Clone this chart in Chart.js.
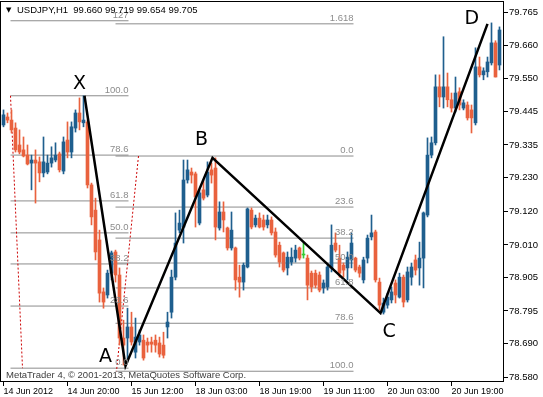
<!DOCTYPE html>
<html>
<head>
<meta charset="utf-8">
<script src="https://cdn.jsdelivr.net/npm/chart.js@4.4.0/dist/chart.umd.min.js"></script>
<style>
html, body { margin: 0; padding: 0; background: #fff; }
#wrap { width: 543px; height: 397px; }
</style>
</head>
<body>
<div id="wrap"><canvas id="myChart"></canvas></div>
<script>
// USDJPY H1 bars, one value per hour (bar index = position in array)
var opens = [79.400, 79.426, 79.416, 79.390, 79.335, 79.319, 79.302, 79.276, 79.286, 79.280,
  79.244, 79.247, 79.276, 79.286, 79.306, 79.250, 79.351, 79.312, 79.390, 79.439,
  79.407, 79.410, 79.205, 79.123, 79.026, 78.857, 78.847, 78.918, 78.987, 78.912,
  78.707, 78.707, 78.743, 78.661, 78.694, 78.700, 78.694, 78.694, 78.700, 78.691,
  78.684, 78.743, 78.791, 78.905, 79.058, 79.068, 79.221, 79.247, 79.241, 79.081,
  79.189, 79.172, 79.254, 79.260, 79.065, 79.117, 79.065, 79.000, 79.000, 78.905,
  78.889, 78.938, 79.123, 79.075, 79.097, 79.091, 79.075, 79.091, 79.052, 79.009,
  78.984, 78.935, 78.954, 78.967, 79.000, 78.977, 78.967, 78.918, 78.918, 78.912,
  78.870, 78.873, 78.935, 79.016, 78.967, 78.944, 78.935, 78.961, 78.967, 78.938,
  78.896, 78.967, 79.036, 79.052, 78.889, 78.791, 78.814, 78.831, 78.886, 78.840,
  78.905, 78.831, 78.905, 78.961, 78.935, 78.967, 79.107, 79.302, 79.342, 79.524,
  79.491, 79.524, 79.482, 79.455, 79.508, 79.455, 79.465, 79.449, 79.407, 79.589,
  79.563, 79.573, 79.602, 79.667, 79.595];
var highs = [79.449, 79.439, 79.449, 79.407, 79.384, 79.361, 79.335, 79.302, 79.319, 79.296,
  79.361, 79.302, 79.329, 79.342, 79.312, 79.361, 79.410, 79.410, 79.449, 79.488,
  79.495, 79.416, 79.211, 79.162, 79.058, 78.870, 78.928, 78.990, 78.993, 78.935,
  78.765, 78.804, 78.791, 78.772, 78.733, 78.717, 78.707, 78.710, 78.717, 78.710,
  78.726, 78.791, 78.928, 79.114, 79.123, 79.286, 79.286, 79.260, 79.247, 79.189,
  79.221, 79.280, 79.276, 79.293, 79.150, 79.150, 79.068, 79.117, 79.003, 78.944,
  78.951, 79.130, 79.130, 79.107, 79.114, 79.107, 79.107, 79.101, 79.065, 79.019,
  78.987, 78.987, 79.000, 79.009, 79.003, 79.016, 78.977, 78.925, 78.928, 78.922,
  78.896, 78.944, 79.075, 79.049, 79.009, 78.951, 78.987, 79.049, 78.970, 78.944,
  78.970, 79.042, 79.107, 79.058, 78.902, 78.837, 78.853, 78.873, 78.896, 78.918,
  78.912, 78.938, 78.951, 78.977, 79.019, 79.117, 79.358, 79.361, 79.563, 79.563,
  79.687, 79.569, 79.504, 79.556, 79.521, 79.482, 79.475, 79.465, 79.651, 79.621,
  79.586, 79.621, 79.732, 79.674, 79.719];
var lows = [79.394, 79.407, 79.374, 79.312, 79.306, 79.296, 79.270, 79.189, 79.146, 79.215,
  79.231, 79.241, 79.263, 79.280, 79.247, 79.241, 79.293, 79.293, 79.377, 79.384,
  79.394, 79.195, 79.075, 78.961, 78.824, 78.804, 78.837, 78.896, 78.889, 78.684,
  78.619, 78.629, 78.684, 78.642, 78.684, 78.635, 78.661, 78.661, 78.661, 78.645,
  78.642, 78.707, 78.772, 78.896, 79.049, 79.016, 79.211, 79.211, 79.068, 79.075,
  79.156, 79.166, 79.211, 79.026, 79.058, 79.052, 78.993, 78.993, 78.863, 78.840,
  78.863, 78.935, 79.062, 79.068, 79.065, 79.058, 79.065, 79.042, 78.970, 78.938,
  78.922, 78.912, 78.944, 78.954, 78.961, 78.967, 78.831, 78.857, 78.870, 78.857,
  78.853, 78.863, 78.922, 78.987, 78.905, 78.905, 78.896, 78.935, 78.922, 78.905,
  78.886, 78.951, 79.026, 78.889, 78.798, 78.785, 78.804, 78.821, 78.821, 78.837,
  78.808, 78.824, 78.879, 78.912, 78.879, 78.870, 79.101, 79.293, 79.335, 79.459,
  79.455, 79.459, 79.442, 79.442, 79.449, 79.449, 79.416, 79.374, 79.400, 79.556,
  79.547, 79.556, 79.595, 79.556, 79.579];
var closes = [79.433, 79.416, 79.384, 79.319, 79.312, 79.299, 79.273, 79.286, 79.276, 79.244,
  79.280, 79.276, 79.293, 79.302, 79.254, 79.345, 79.312, 79.394, 79.439, 79.410,
  79.416, 79.205, 79.101, 78.987, 78.853, 78.824, 78.918, 78.984, 78.912, 78.707,
  78.684, 78.743, 78.694, 78.710, 78.717, 78.642, 78.684, 78.687, 78.684, 78.655,
  78.651, 78.759, 78.905, 79.016, 79.081, 79.221, 79.254, 79.237, 79.166, 79.179,
  79.162, 79.247, 79.237, 79.068, 79.117, 79.091, 79.000, 79.058, 78.896, 78.889,
  78.944, 79.127, 79.068, 79.097, 79.068, 79.068, 79.091, 79.049, 78.977, 78.954,
  78.928, 78.970, 78.970, 78.993, 78.967, 78.980, 78.879, 78.873, 78.879, 78.863,
  78.886, 78.938, 79.009, 78.993, 78.918, 78.928, 78.970, 79.016, 78.928, 78.918,
  78.961, 79.032, 79.049, 78.896, 78.814, 78.821, 78.840, 78.857, 78.847, 78.905,
  78.824, 78.922, 78.938, 78.928, 78.967, 79.114, 79.302, 79.342, 79.524, 79.491,
  79.524, 79.482, 79.455, 79.504, 79.465, 79.472, 79.423, 79.423, 79.589, 79.563,
  79.576, 79.605, 79.667, 79.556, 79.709];
var selectedBar = 75; // the one bar MT4 shows in green

// time axis labels and the bar they sit on
var timeLabels = ['14 Jun 2012', '14 Jun 20:00', '15 Jun 12:00', '18 Jun 03:00',
  '18 Jun 19:00', '19 Jun 11:00', '20 Jun 03:00', '20 Jun 19:00'];
var timeLabelBars = [0, 16, 32, 48, 64, 80, 96, 112];

// price scale
var priceTicks = [79.765, 79.660, 79.550, 79.445, 79.335, 79.230, 79.120, 79.010,
  78.905, 78.795, 78.690, 78.580];

// XABCD pattern
var pointNames = ['X', 'A', 'B', 'C', 'D'];
var pointBars = [20.25, 30.5, 52.25, 94.25, 121];
var pointPrices = [79.495, 78.616, 79.293, 78.788, 79.729];
var nameBars = [19, 25.5, 49.5, 96.4, 117.1];
var namePrices = [79.534, 78.645, 79.351, 78.726, 79.745];

// fibo X-A
var fibXALevels = ['127', '100.0', '78.6', '61.8', '50.0', '38.2', '23.6', '0.0'];
var fibXAPrices = [79.739, 79.495, 79.302, 79.153, 79.049, 78.948, 78.811, 78.609];
var fibXABars = [1.75, 31.25];
var fibXATrendBars = [1.75, 4.75];
var fibXATrendPrices = [79.495, 78.609];

// fibo B-C
var fibBCLevels = ['1.618', '0.0', '23.6', '38.2', '50.0', '61.8', '78.6', '100.0'];
var fibBCPrices = [79.729, 79.299, 79.133, 79.032, 78.951, 78.870, 78.755, 78.599];
var fibBCBars = [28, 87.5];
var fibBCTrendBars = [33.75, 28.25];
var fibBCTrendPrices = [79.299, 78.599];

var UP = '#1f5f8e', DOWN = '#e9623e', SEL = '#33cc33';
var FONT = '"Liberation Sans", Arial, sans-serif';

var barColors = opens.map(function (o, i) {
  if (i === selectedBar) return SEL;
  return closes[i] >= o ? UP : DOWN;
});

function fibLines(prices, bars) {
  return prices.map(function (p) {
    return {
      type: 'line',
      data: [{ x: bars[0], y: p }, { x: bars[1], y: p }],
      borderColor: '#8c8c8c', borderWidth: 1, pointRadius: 0, order: 4
    };
  });
}
function trendLine(bars, prices) {
  return {
    type: 'line',
    data: bars.map(function (b, k) { return { x: b, y: prices[k] }; }),
    borderColor: '#cc0000', borderWidth: 1, borderDash: [2, 2], pointRadius: 0, order: 3
  };
}

var datasets = [
  {
    data: lows.map(function (l, i) { return { x: i, y: [l, highs[i]] }; }),
    backgroundColor: barColors, barThickness: 1, grouped: false, minBarLength: 1, order: 2
  },
  {
    data: opens.map(function (o, i) { return { x: i, y: [o, closes[i]] }; }),
    backgroundColor: barColors, barThickness: 3, grouped: false, minBarLength: 1, order: 2
  },
  trendLine(fibXATrendBars, fibXATrendPrices),
  trendLine(fibBCTrendBars, fibBCTrendPrices),
  {
    type: 'line',
    data: pointBars.map(function (b, k) { return { x: b, y: pointPrices[k] }; }),
    borderColor: '#000', borderWidth: 2.5, pointRadius: 0, tension: 0, order: 1
  }
].concat(fibLines(fibXAPrices, fibXABars), fibLines(fibBCPrices, fibBCBars));

var extras = {
  id: 'extras',
  afterDatasetsDraw: function (chart) {
    var ctx = chart.ctx, sx = chart.scales.x, sy = chart.scales.y, a = chart.chartArea;
    ctx.save();
    // fibo captions
    ctx.font = '9.5px ' + FONT;
    ctx.fillStyle = '#8c8c8c';
    ctx.textAlign = 'right';
    ctx.textBaseline = 'bottom';
    fibXALevels.forEach(function (t, k) {
      ctx.fillText(t, sx.getPixelForValue(fibXABars[1]), sy.getPixelForValue(fibXAPrices[k]) - 1);
    });
    fibBCLevels.forEach(function (t, k) {
      ctx.fillText(t, sx.getPixelForValue(fibBCBars[1]), sy.getPixelForValue(fibBCPrices[k]) - 1);
    });
    // pattern letters
    ctx.font = '19px "DejaVu Sans", sans-serif';
    ctx.fillStyle = '#000';
    ctx.textAlign = 'center';
    ctx.textBaseline = 'middle';
    pointNames.forEach(function (t, k) {
      ctx.fillText(t, sx.getPixelForValue(nameBars[k]), sy.getPixelForValue(namePrices[k]));
    });
    // header and footer
    ctx.textAlign = 'left';
    ctx.font = '7px "DejaVu Sans", sans-serif';
    ctx.fillText('\u25BC', 6, 10);
    ctx.font = '9.5px ' + FONT;
    ctx.fillText('USDJPY,H1  99.660 99.719 99.654 99.705', 17, 10);
    ctx.fillStyle = '#404040';
    ctx.fillText('MetaTrader 4, \u00A9 2001-2013, MetaQuotes Software Corp.', 6, 375);
    // frame
    ctx.strokeStyle = '#000';
    ctx.lineWidth = 1;
    ctx.strokeRect(a.left - 0.5, a.top - 0.5, a.right - a.left, a.bottom - a.top);
    ctx.restore();
  }
};

function fixSize(w, h) {
  return function (scale) {
    if (w) scale.width = w;
    if (h) scale.height = h;
    scale.paddingTop = 0; scale.paddingBottom = 0;
    scale.paddingLeft = 0; scale.paddingRight = 0;
  };
}

var ctx = document.getElementById('myChart').getContext('2d');
var chart = new Chart(ctx, {
  type: 'bar',
  data: { datasets: datasets },
  plugins: [extras],
  options: {
    responsive: true,
    maintainAspectRatio: false,
    animation: false,
    layout: { padding: { left: 1, top: 2, right: 0, bottom: 0 } },
    plugins: { legend: { display: false }, tooltip: { enabled: false } },
    scales: {
      x: {
        type: 'linear',
        min: -0.625,
        max: 125.125,
        offset: false,
        grid: { offset: false, drawOnChartArea: false, tickLength: 4, color: '#000' },
        border: { display: false },
        afterBuildTicks: function (axis) {
          axis.ticks = timeLabelBars.map(function (v) { return { value: v }; });
        },
        afterFit: fixSize(0, 15),
        ticks: {
          autoSkip: false, maxRotation: 0, align: 'start', padding: 0,
          color: '#000', font: { family: FONT, size: 9 },
          callback: function (v) { return timeLabels[timeLabelBars.indexOf(v)]; }
        }
      },
      y: {
        position: 'right',
        min: 78.564,
        max: 79.800,
        grid: { drawOnChartArea: false, tickLength: 4, color: '#000' },
        border: { display: false },
        afterBuildTicks: function (axis) {
          axis.ticks = priceTicks.map(function (v) { return { value: v }; });
        },
        afterFit: fixSize(39, 0),
        ticks: {
          padding: 1, color: '#000', font: { family: FONT, size: 9.5 },
          callback: function (v) { return v.toFixed(3); }
        }
      }
    }
  }
});
</script>
</body>
</html>
